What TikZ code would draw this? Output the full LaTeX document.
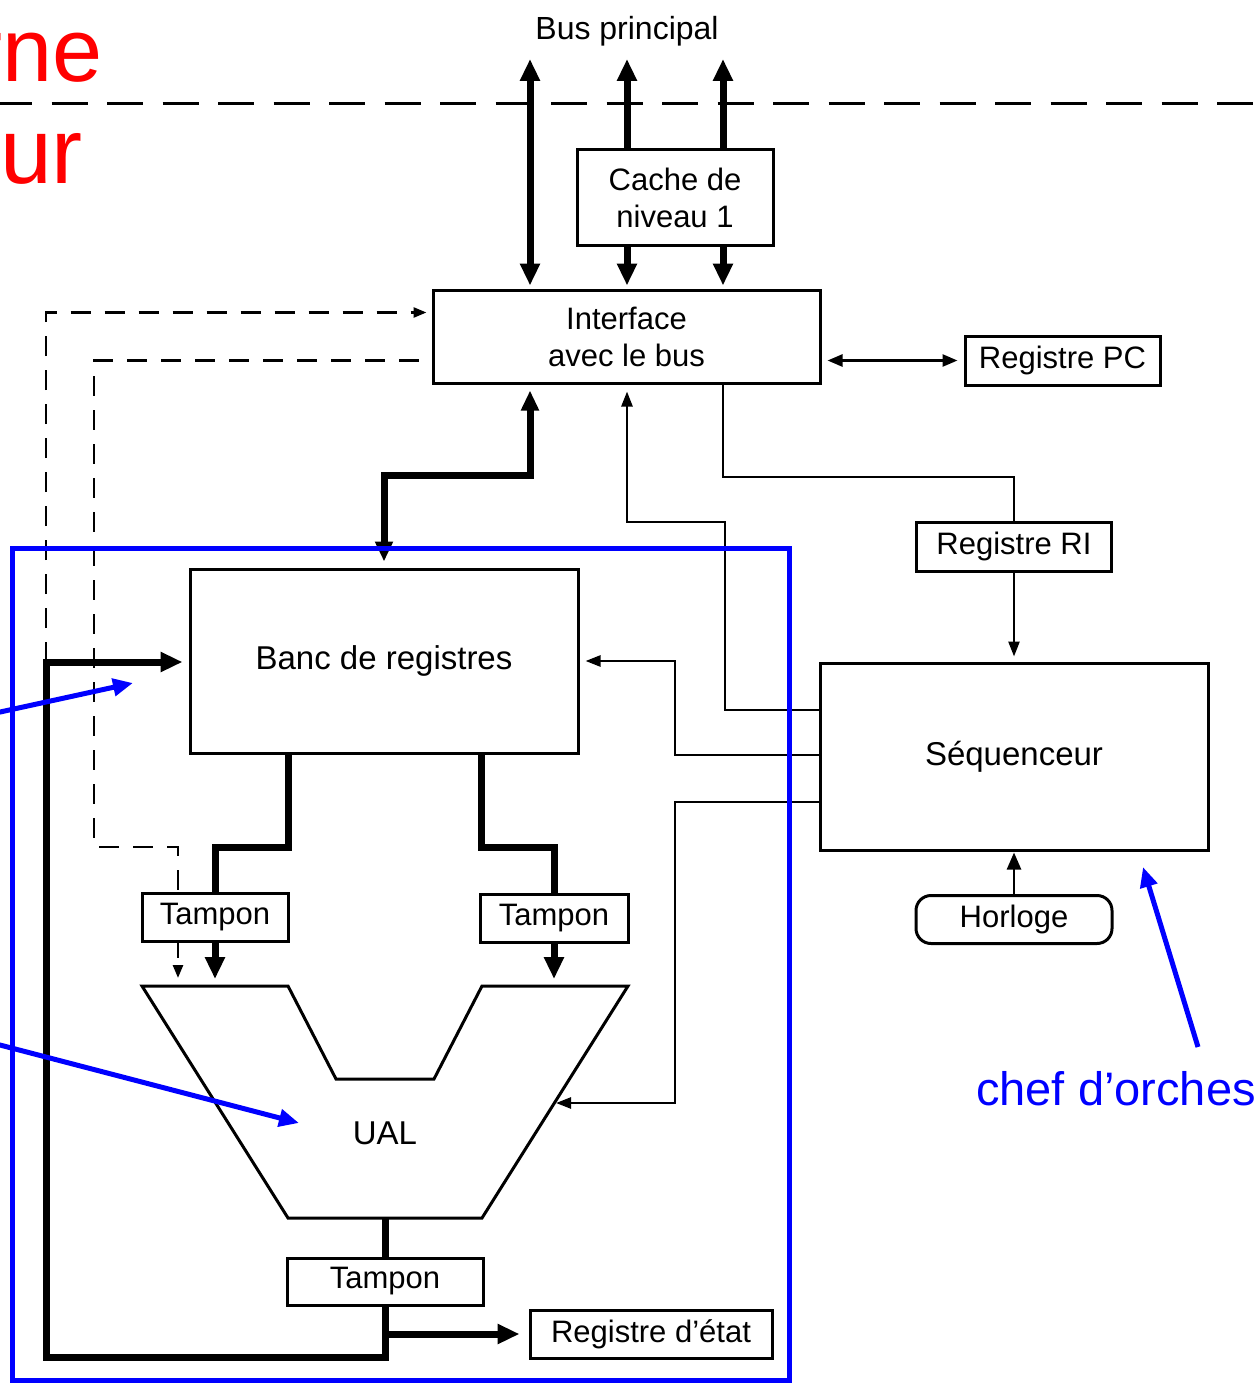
\documentclass[tikz,border=0pt]{standalone}
\usepackage{fontspec}
\setmainfont{Liberation Sans}
\usetikzlibrary{arrows.meta,calc}
\pgfdeclarelayer{bg}
\pgfsetlayers{bg,main}
\newcommand{\myLbl}{\fontsize{31}{37}\selectfont}
\newcommand{\myBig}{\fontsize{33}{38}\selectfont}
\begin{document}
\begin{tikzpicture}[x=1pt,y=-1pt,
  box/.style={draw,line width=3pt,fill=white,inner sep=0pt,align=center,font=\myLbl},
  bus/.style={line width=7pt,line join=miter,-{Triangle[length=22pt,width=19pt]}},
  busline/.style={line width=7pt,line join=miter},
  ln/.style={line width=2.5pt,line join=miter},
  thinarr/.style={-{Triangle[length=15pt,width=11pt]}},
  dsh/.style={line width=2.5pt,dash pattern=on 20pt off 14pt,line join=miter},
  blarr/.style={draw=blue,line width=5pt,-{Triangle[length=20pt,width=17pt]}}
]
\useasboundingbox (0,0) rectangle (1258,1383);

% red cut-off title text
\node[anchor=base east,inner sep=0pt,text=red,font=\fontsize{90}{100}\selectfont] (t1) at (103,82) {rne};
\node[anchor=base west,inner sep=0pt,text=red,font=\fontsize{93}{100}\selectfont] (t2) at (0,183) {ur};

% bus label
\node[anchor=base,inner sep=0pt,font=\fontsize{32}{38}\selectfont] (bus) at (627,40) {Bus principal};

% boxes
\node[box,minimum width=196pt,minimum height=95pt] (cache) at (675,197.5) {Cache de\\niveau 1};
\node[box,minimum width=387pt,minimum height=93pt] (iface) at (626.5,336.5) {Interface\\avec le bus};
\node[box,minimum width=195pt,minimum height=49pt] (regpc) at (1062.5,360.5) {Registre PC};
\node[box,minimum width=195pt,minimum height=49pt] (regri) at (1014,546.5) {Registre RI};
\node[box,minimum width=388pt,minimum height=187pt,font=\myBig] (seq) at (1014,756.5) {Séquenceur};
\node[box,rounded corners=15pt,minimum width=196pt,minimum height=48pt] (horl) at (1014,919.5) {Horloge};
\node[box,minimum width=388pt,minimum height=184pt,font=\myBig] (banc) at (384,661) {Banc de registres};
\node[box,minimum width=146pt,minimum height=48pt] (tampL) at (215,917) {Tampon};
\node[box,minimum width=148pt,minimum height=48pt] (tampR) at (554,918) {Tampon};
\node[box,minimum width=196pt,minimum height=47pt] (tampB) at (385,1281.5) {Tampon};
\node[box,minimum width=242pt,minimum height=48pt] (regetat) at (651,1334) {Registre d’état};

% UAL
\draw[line width=3pt,line join=miter,fill=white] (142,986) -- (288,986) -- (336,1079) -- (434,1079) -- (482,986) -- (628,986) -- (482,1218) -- (288,1218) -- cycle;
\node[inner sep=0pt,font=\myBig] (ual) at (385,1133) {UAL};
\coordinate (utop) at (385,986);
\coordinate (ubot) at (385,1218);
\coordinate (uR) at (556,1103);

% coordinates for routing
\coordinate (b1) at (530,59);
\coordinate (b2) at (627,59);
\coordinate (b3) at (723,59);
\coordinate (j1) at (384,475);
\coordinate (j2) at (1014,477);
\coordinate (k1) at (725,522);
\coordinate (k2) at (675,661);
\coordinate (k3) at (675,1103);
\coordinate (k4) at (288,847);
\coordinate (k5) at (481,847);
\coordinate (lp1) at (385,1357);
\coordinate (lp2) at (46,662);
\coordinate (d1) at (94,847);
\coordinate (d2) at (178,978);
\coordinate (hl) at (-4,104);
\coordinate (hr) at (1262,104);

\begin{pgfonlayer}{bg}
\fill[white] (0,0) rectangle (1258,1383);
% dashed boundary
\draw[line width=3pt,dash pattern=on 36pt off 19.5pt] (hl) -- (hr);
% bus arrows
\draw[bus,{Triangle[length=22pt,width=19pt]}-{Triangle[length=22pt,width=19pt]},shorten >=3pt] (b1) -- (b1 |- iface.north);
\draw[bus] (cache.north -| b2) -- (b2);
\draw[bus] (cache.north -| b3) -- (b3);
\draw[bus,shorten >=3pt] (cache.south -| b2) -- (b2 |- iface.north);
\draw[bus,shorten >=3pt] (cache.south -| b3) -- (b3 |- iface.north);
% PC
\draw[ln,{Triangle[length=15pt,width=12pt]}-{Triangle[length=15pt,width=12pt]},shorten <=6pt,shorten >=6pt] (iface.east |- regpc.west) -- (regpc.west);
% interface <-> banc
\draw[bus,{Triangle[length=20pt,width=17pt]}-{Triangle[length=20pt,width=17pt]},shorten <=6pt,shorten >=6pt] (iface.south -| b1) |- (j1) -- (banc.north);
% interface -> RI -> seq
\draw[ln] (iface.south -| b3) |- (j2) -- (regri.north);
\draw[ln,thinarr,shorten >=5pt] (regri.south) -- (seq.north);
% seq -> interface
\draw[ln,thinarr,shorten >=7pt] ([yshift=46.5pt]seq.west) -| (k1) -| (iface.south -| b2);
% seq -> banc
\draw[ln,thinarr,shorten >=6pt] ([yshift=1.5pt]seq.west) -| (k2) -- (banc.east);
% seq -> UAL
\draw[ln,thinarr] ([yshift=-45.5pt]seq.west) -| (k3) -- (uR);
% horloge -> seq
\draw[ln,-{Triangle[length=17pt,width=14pt]},shorten >=1pt] (horl.north) -- (seq.south);
% banc -> tampons
\draw[busline] (banc.south -| k4) -- (k4) -| (tampL.north);
\draw[busline] (banc.south -| k5) -- (k5) -| (tampR.north);
\draw[bus,shorten >=7pt] (tampL.south) -- (tampL.south |- utop);
\draw[bus,shorten >=7pt] (tampR.south) -- (tampR.south |- utop);
% UAL -> tampon -> loop
\draw[busline] (ubot) -- (tampB.north);
\draw[bus,shorten >=6pt] (tampB.south) -- (lp1) -| (lp2) -- (lp2 -| banc.west);
\draw[bus,shorten >=9pt] (tampB.south |- regetat.west) -- (regetat.west);
% dashed control lines
\draw[dsh,-{Triangle[length=13pt,width=10pt]},shorten >=5pt] (lp2) |- ($(iface.north west)!0.25!(iface.south west)$);
\draw[dsh,-{Triangle[length=13pt,width=10pt]},shorten <=13pt] ($(iface.north west)!0.75!(iface.south west)$) -| (d1) -| (d2);
\end{pgfonlayer}

% blue annotation
\draw[blue,line width=5pt] (12,548) rectangle (789,1380);
\coordinate (ba1s) at (-20,716.4);
\coordinate (ba1e) at (133,683);
\coordinate (ba2s) at (-20,1039.8);
\coordinate (ba2e) at (299,1123);
\coordinate (ba3s) at (1198,1047);
\coordinate (ba3e) at (1143,867);
\draw[blarr] (ba1s) -- (ba1e);
\draw[blarr] (ba2s) -- (ba2e);
\draw[blarr] (ba3s) -- (ba3e);
\node[anchor=base west,inner sep=0pt,text=blue,font=\fontsize{47}{56}\selectfont] (chef) at (976,1105) {chef d’orches};
\end{tikzpicture}
\end{document}
